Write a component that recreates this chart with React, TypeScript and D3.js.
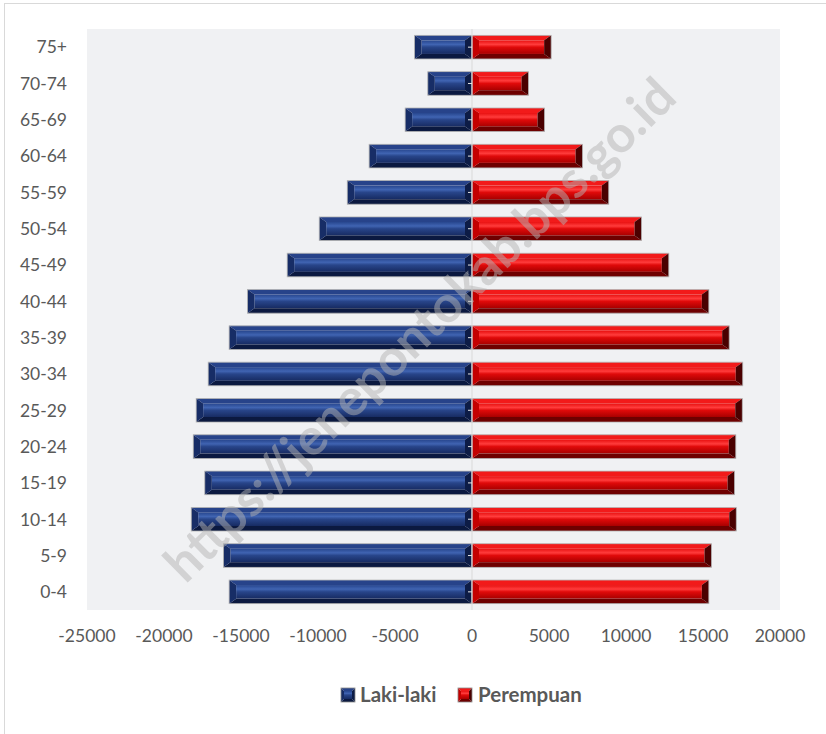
import React from 'react';
import * as d3 from 'd3';

const ageGroups = ['0-4', '5-9', '10-14', '15-19', '20-24', '25-29', '30-34', '35-39', '40-44', '45-49', '50-54', '55-59', '60-64', '65-69', '70-74', '75+'];
const lakiLaki = [-15770, -16140, -18230, -17350, -18100, -17910, -17130, -15770, -14580, -12000, -9920, -8100, -6680, -4340, -2870, -3730];
const perempuan = [15380, 15550, 17160, 17050, 17130, 17550, 17580, 16700, 15380, 12780, 11010, 8880, 7180, 4710, 3670, 5140];
const xTicks = [-25000, -20000, -15000, -10000, -5000, 0, 5000, 10000, 15000, 20000];
const seriesNames = ['Laki-laki', 'Perempuan'];
const watermark = 'https://jenepontokab.bps.go.id';

const W = 826;
const H = 734;
const plot = { left: 87, right: 780, top: 29, bottom: 610 };
const FONT = 'Lato, "Open Sans", sans-serif';

type Pal = { face: string; top: string; bottom: string; left: string; right: string };
const pals: Pal[] = [
  { face: 'gBlue', top: '#27438a', bottom: '#0b1940', left: '#172d66', right: '#0d1c46' },
  { face: 'gRed', top: '#f21a1a', bottom: '#6e0000', left: '#c40000', right: '#4a0000' },
];

function Bevel({ x0, x1, y0, y1, pal, bx = 7, by = 5, stroke = '#b4b4b4' }: { x0: number; x1: number; y0: number; y1: number; pal: Pal; bx?: number; by?: number; stroke?: string }) {
  const b = Math.min(bx, (x1 - x0) / 2);
  const v = Math.min(by, (y1 - y0) / 2);
  const pts = (a: number[][]) => a.map((p) => p.join(',')).join(' ');
  return (
    <g>
      <rect x={x0 + b} y={y0 + v} width={Math.max(0, x1 - x0 - 2 * b)} height={Math.max(0, y1 - y0 - 2 * v)} fill={`url(#${pal.face})`} />
      <polygon points={pts([[x0, y0], [x1, y0], [x1 - b, y0 + v], [x0 + b, y0 + v]])} fill={pal.top} />
      <polygon points={pts([[x0, y1], [x1, y1], [x1 - b, y1 - v], [x0 + b, y1 - v]])} fill={pal.bottom} />
      <polygon points={pts([[x0, y0], [x0 + b, y0 + v], [x0 + b, y1 - v], [x0, y1]])} fill={pal.left} />
      <polygon points={pts([[x1, y0], [x1 - b, y0 + v], [x1 - b, y1 - v], [x1, y1]])} fill={pal.right} />
      <rect x={x0} y={y0} width={x1 - x0} height={y1 - y0} fill="none" stroke={stroke} strokeWidth={0.8} />
    </g>
  );
}

export default function App() {
  const x = d3.scaleLinear().domain([-25000, 20000]).range([plot.left, plot.right]);
  const y = d3.scaleBand<string>().domain([...ageGroups].reverse()).range([plot.top, plot.bottom]).paddingInner(0.35).paddingOuter(0.175);
  const x0 = x(0);
  const bh = y.bandwidth();

  return (
    <div style={{ position: 'absolute', left: 0, top: 0 }}>
      <svg width={W} height={H} style={{ display: 'block', background: '#ffffff' }}>
        <defs>
          <linearGradient id="gBlue" x1="0" y1="0" x2="0" y2="1">
            <stop offset="0" stopColor="#27468e" />
            <stop offset="0.3" stopColor="#4064b2" />
            <stop offset="0.5" stopColor="#28458a" />
            <stop offset="1" stopColor="#172b62" />
          </linearGradient>
          <linearGradient id="gRed" x1="0" y1="0" x2="0" y2="1">
            <stop offset="0" stopColor="#e81010" />
            <stop offset="0.3" stopColor="#ff3c3c" />
            <stop offset="0.5" stopColor="#e00a0a" />
            <stop offset="1" stopColor="#a80000" />
          </linearGradient>
        </defs>
        <rect x={4.5} y={3.5} width={840} height={760} fill="#ffffff" stroke="#d9d9d9" strokeWidth={1} />
        <rect x={plot.left} y={plot.top} width={plot.right - plot.left} height={plot.bottom - plot.top} fill="#f0f1f3" />

        {ageGroups.map((g, i) => {
          const yy = y(g)!;
          return (
            <g key={g}>
              <Bevel x0={x(lakiLaki[i])} x1={x0} y0={yy} y1={yy + bh} pal={pals[0]} />
              <Bevel x0={x0} x1={x(perempuan[i])} y0={yy} y1={yy + bh} pal={pals[1]} />
            </g>
          );
        })}

        <line x1={x0} x2={x0} y1={plot.top} y2={plot.bottom} stroke="#d9d9d9" strokeWidth={1} />
        {ageGroups.map((g) => (
          <line key={'t' + g} x1={x0 - 4} x2={x0} y1={y(g)! + bh / 2} y2={y(g)! + bh / 2} stroke="#e6e6e6" strokeWidth={1} />
        ))}

        {ageGroups.map((g) => (
          <text key={'l' + g} x={67} y={y(g)! + bh / 2} dy="0.36em" textAnchor="end" fontFamily={FONT} fontSize={17.5} fill="#595959">
            {g}
          </text>
        ))}

        {xTicks.map((t) => (
          <text key={'x' + t} x={x(t)} y={642} textAnchor="middle" fontFamily={FONT} fontSize={17.5} fill="#595959">
            {t}
          </text>
        ))}

        <g>
          <Bevel x0={341} x1={355} y0={688} y1={702} pal={pals[0]} bx={3} by={3} stroke="#8a8a8a" />
          <text x={360} y={702} fontFamily={FONT} fontSize={20.5} fontWeight={700} fill="#595959">{seriesNames[0]}</text>
          <Bevel x0={458} x1={472} y0={688} y1={702} pal={pals[1]} bx={3} by={3} stroke="#8a8a8a" />
          <text x={478} y={702} fontFamily={FONT} fontSize={20.5} fontWeight={700} fill="#595959">{seriesNames[1]}</text>
        </g>

        <text
          x={423}
          y={333}
          transform="rotate(-44.5 423 333)"
          textAnchor="middle"
          dominantBaseline="middle"
          fontFamily={FONT}
          fontSize={51}
          fontWeight={700}
          fill="#b4b4b4"
          fillOpacity={0.5}
        >
          {watermark}
        </text>
      </svg>
    </div>
  );
}
